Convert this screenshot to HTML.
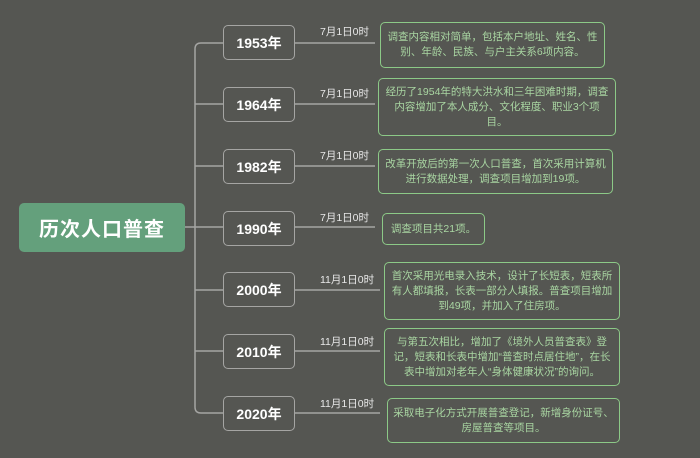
<!DOCTYPE html>
<html><head><meta charset="utf-8"><style>
body{margin:0;width:700px;height:458px;background:#555652;overflow:hidden;position:relative;font-family:"Liberation Sans","Noto Sans CJK SC",sans-serif}
.root{position:absolute;left:19px;top:203px;width:166px;height:49px;background:#64a07c;border-radius:5px;color:#fff;font-size:20px;font-weight:bold;display:flex;align-items:center;justify-content:center;letter-spacing:1px}
.yr{position:absolute;left:223px;width:70px;height:33px;border:1.5px solid #a5a5a3;border-radius:5px;color:#fff;font-weight:bold;font-size:14px;display:flex;align-items:center;justify-content:center}
.d{position:absolute;border:1.5px solid #8cc987;border-radius:5px;color:#a9d6a2;font-size:10.5px;line-height:15px;text-align:center;display:flex;align-items:center;justify-content:center;padding:0 6px;box-sizing:border-box}
.lb{position:absolute;color:#e8e8e8;font-size:10.5px}
</style></head><body>
<svg width="700" height="458" style="position:absolute;left:0;top:0">
<g stroke="#a5a5a3" stroke-width="1.5" fill="none">
<line x1="185" y1="227" x2="223" y2="227"/>
<path d="M223 43 H201 Q195 43 195 49 V407 Q195 413 201 413 H223"/>
<line x1="195" y1="104" x2="223" y2="104"/>
<line x1="195" y1="166" x2="223" y2="166"/>
<line x1="195" y1="290" x2="223" y2="290"/>
<line x1="195" y1="351" x2="223" y2="351"/>
<line x1="295" y1="43" x2="375" y2="43"/>
<line x1="295" y1="104" x2="375" y2="104"/>
<line x1="295" y1="166" x2="375" y2="166"/>
<line x1="295" y1="227" x2="375" y2="227"/>
<line x1="295" y1="290" x2="380" y2="290"/>
<line x1="295" y1="351" x2="380" y2="351"/>
<line x1="295" y1="413" x2="380" y2="413"/>
</g></svg>
<div class="root">历次人口普查</div>
<div class="yr" style="top:25px">1953年</div>
<div class="yr" style="top:87px">1964年</div>
<div class="yr" style="top:149px">1982年</div>
<div class="yr" style="top:211px">1990年</div>
<div class="yr" style="top:272px">2000年</div>
<div class="yr" style="top:334px">2010年</div>
<div class="yr" style="top:396px">2020年</div>
<div class="lb" style="left:320px;top:24px">7月1日0时</div>
<div class="lb" style="left:320px;top:86px">7月1日0时</div>
<div class="lb" style="left:320px;top:148px">7月1日0时</div>
<div class="lb" style="left:320px;top:210px">7月1日0时</div>
<div class="lb" style="left:320px;top:272px">11月1日0时</div>
<div class="lb" style="left:320px;top:334px">11月1日0时</div>
<div class="lb" style="left:320px;top:396px">11月1日0时</div>
<div class="d" style="left:380px;top:22px;width:225px;height:46px">调查内容相对简单，包括本户地址、姓名、性别、年龄、民族、与户主关系6项内容。</div>
<div class="d" style="left:378px;top:78px;width:238px;height:58px">经历了1954年的特大洪水和三年困难时期，调查内容增加了本人成分、文化程度、职业3个项目。</div>
<div class="d" style="left:378px;top:149px;width:235px;height:45px">改革开放后的第一次人口普查，首次采用计算机进行数据处理，调查项目增加到19项。</div>
<div class="d" style="left:382px;top:213px;width:103px;height:32px">调查项目共21项。</div>
<div class="d" style="left:384px;top:262px;width:236px;height:58px">首次采用光电录入技术，设计了长短表，短表所有人都填报，长表一部分人填报。普查项目增加到49项，并加入了住房项。</div>
<div class="d" style="left:384px;top:328px;width:236px;height:58px">与第五次相比，增加了《境外人员普查表》登记，短表和长表中增加“普查时点居住地”，在长表中增加对老年人“身体健康状况”的询问。</div>
<div class="d" style="left:387px;top:398px;width:233px;height:45px;padding:0 3px">采取电子化方式开展普查登记，新增身份证号、房屋普查等项目。</div>
</body></html>
